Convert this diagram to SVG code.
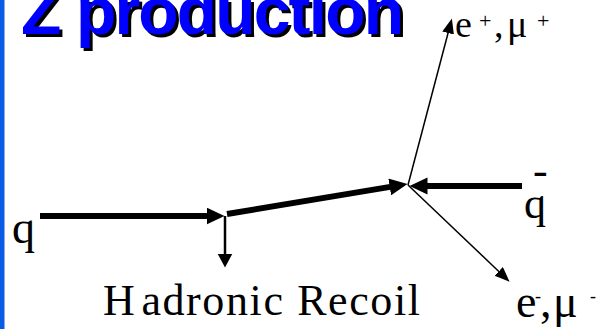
<svg xmlns="http://www.w3.org/2000/svg" width="598" height="329" viewBox="0 0 598 329">
<style>
.title{font-family:"Liberation Sans",Arial,sans-serif;font-weight:bold;font-size:66px}
.lbl{font-family:"Liberation Serif","Times New Roman",serif;fill:#000}
.thick{stroke:#000;stroke-width:6;fill:none}
.mid{stroke:#000;stroke-width:2.5;fill:none}
.thin{stroke:#000;stroke-width:1.5;fill:none}
</style>
<defs>
<marker id="ahBig" markerUnits="userSpaceOnUse" markerWidth="19" markerHeight="18" refX="0.5" refY="8.5" orient="auto">
<path d="M0,0 L18,8.5 L0,17 z" fill="#000"/>
</marker>
<marker id="ahMid" markerUnits="userSpaceOnUse" markerWidth="15" markerHeight="16" refX="0.5" refY="7.5" orient="auto">
<path d="M0,0 L14,7.5 L0,15 z" fill="#000"/>
</marker>
<marker id="ahThin" markerUnits="userSpaceOnUse" markerWidth="16" markerHeight="13" refX="0.5" refY="6" orient="auto">
<path d="M0,0 L15,6 L0,12 z" fill="#000"/>
</marker>
</defs>
<rect x="0" y="0" width="598" height="329" fill="#fff"/>
<rect id="sidebar" x="0" y="0" width="4.5" height="329" fill="#0a5ce6"/>
<g id="title">
<text class="title" x="24" y="37" fill="#000" textLength="383" lengthAdjust="spacing">Z production</text>
<text class="title" x="21" y="34" fill="#0000ff" textLength="383" lengthAdjust="spacing">Z production</text>
</g>
<g id="connectors">
<line class="thick" x1="40" y1="216" x2="207" y2="216" marker-end="url(#ahBig)"/>
<line class="thick" x1="227" y1="214" x2="390.2" y2="186.9" marker-end="url(#ahBig)"/>
<line class="thick" x1="522" y1="186" x2="427" y2="186" marker-end="url(#ahBig)"/>
<line class="mid" x1="225" y1="216" x2="225" y2="254" marker-end="url(#ahMid)"/>
<line class="thin" x1="408" y1="185" x2="448.2" y2="32.5" marker-end="url(#ahThin)"/>
<line class="thin" x1="408" y1="185" x2="499.1" y2="271.7" marker-end="url(#ahThin)"/>
</g>
<g id="q">
<text class="lbl" x="12" y="243" font-size="46">q</text>
</g>
<g id="qbar">
<text class="lbl" x="524" y="218" font-size="44">q</text>
<text class="lbl" x="533" y="185" font-size="44">-</text>
</g>
<g id="lepton-plus">
<text class="lbl" font-size="38"><tspan x="455" y="37">e</tspan><tspan x="479" y="28" font-size="22">+</tspan><tspan x="494" y="37">,</tspan><tspan x="507" y="37">μ</tspan><tspan x="537" y="28" font-size="22">+</tspan></text>
</g>
<g id="lepton-minus">
<text class="lbl" font-size="46"><tspan x="516" y="317">e</tspan><tspan x="535" y="302" font-size="18">-</tspan><tspan x="540" y="317">,</tspan><tspan x="553" y="317">μ</tspan><tspan x="590" y="302" font-size="18">-</tspan></text>
</g>
<g id="recoil">
<text class="lbl" x="103" y="315" font-size="44" letter-spacing="1.6"><tspan>H</tspan><tspan dx="5">adronic Recoil</tspan></text>
</g>
</svg>
